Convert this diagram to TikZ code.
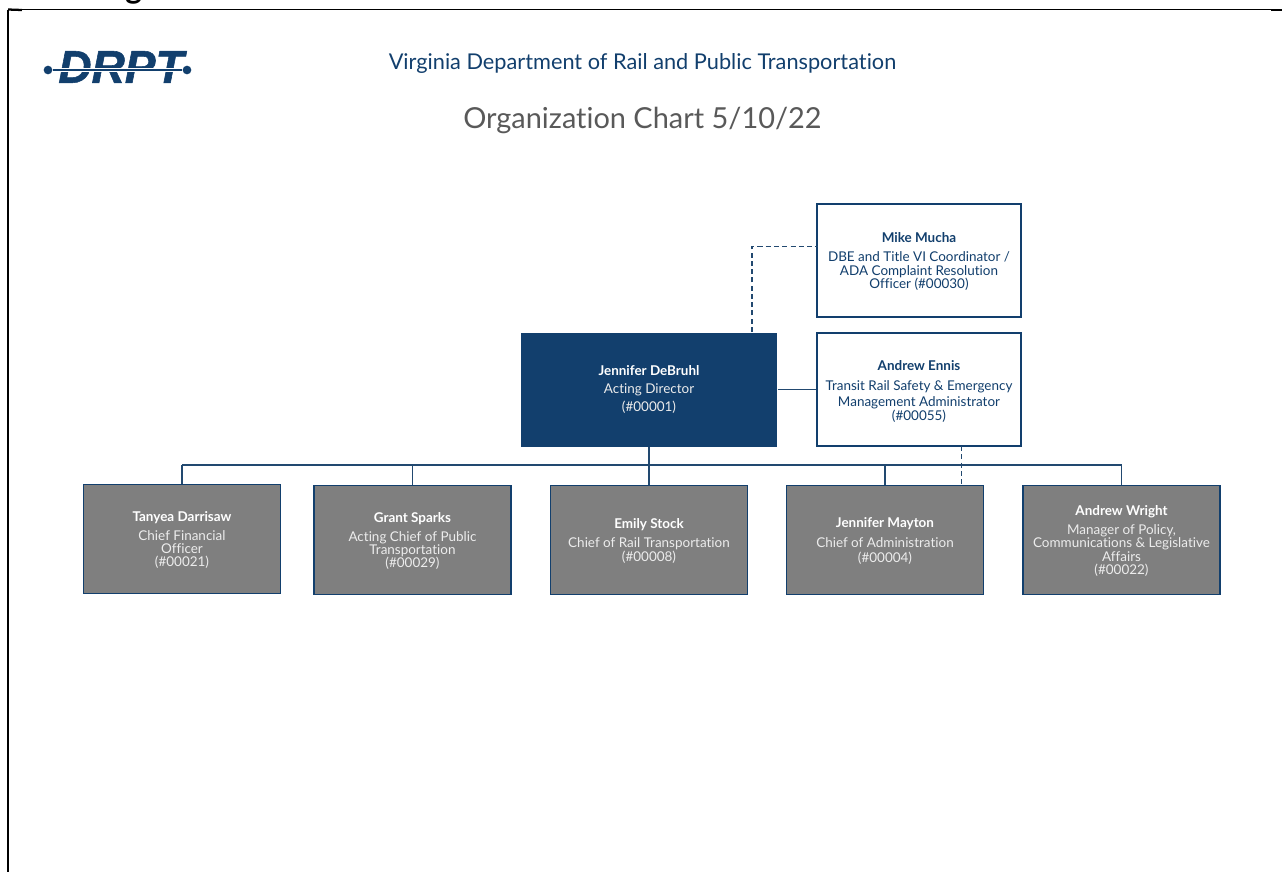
\documentclass[tikz,border=0pt]{standalone}
\usepackage{fontspec}
\setmainfont[Ligatures=NoCommon]{Lato}
\newfontfamily\logofont[FakeBold=1.2]{Liberation Sans}
\definecolor{drptblue}{HTML}{123F6D}
\definecolor{drptgray}{HTML}{7F7F7F}
\definecolor{titlegray}{HTML}{595959}
\tikzset{
    chartline/.style={draw=drptblue!85!gray,line width=1.2pt},
    dashline/.style={chartline,dash pattern=on 3.8pt off 2.4pt},
    staffbox/.style={shape=rectangle,draw=drptblue,line width=1.1pt,fill=white,text=drptblue,
        minimum width=153pt,minimum height=84.5pt,align=center,inner sep=0pt,
        font=\fontsize{10.1pt}{10pt}\selectfont},
    chiefbox/.style={shape=rectangle,draw=drptblue,line width=1.1pt,fill=drptgray,text=white!85!gray,
        minimum width=147.5pt,minimum height=81.5pt,align=center,inner sep=0pt,
        font=\fontsize{10.1pt}{10pt}\selectfont},
}
\newcommand{\who}[1]{\rule{0pt}{8.9pt}{\bfseries\fontsize{10.1pt}{10pt}\selectfont #1}}
\begin{document}
\begin{tikzpicture}[x=0.75pt,y=-0.75pt]
        \useasboundingbox (0,0) rectangle (1282,872);
        \clip (0,0) rectangle (1282,872);

        % frame and clipped heading
        \coordinate (frametl) at (8,9.5);
        \coordinate (framebl) at (8,872);
        \coordinate (frametr) at (1282,9.5);
        \draw[black,line width=0.9pt] (frametl) -- (frametr);
        \draw[black,line width=1.7pt] (frametl) -- (framebl);
        \draw[black,line width=1.7pt] (frametl) -- (22,10);
        \draw[black,line width=1.7pt] (1271,10) -- (1282,10);
        \node[font=\bfseries\fontsize{23.8pt}{26pt}\selectfont,anchor=base west,inner sep=0pt] (heading) at (88,-1.5) {Organization Chart};

        % logo
        \node[font=\logofont\bfseries\itshape\fontsize{34.5pt}{36pt}\selectfont,text=drptblue,inner sep=0pt] (logo) at (121,67) {DRPT};
        \node[shape=circle,fill=drptblue,inner sep=0pt,minimum size=6.5pt] (dotl) at (48,70) {};
        \node[shape=circle,fill=drptblue,inner sep=0pt,minimum size=6.5pt] (dotr) at (187,70) {};
        \path [-,draw=white,line width=2.4pt](dotl) edge (dotr);
        \path [-,draw=drptblue,line width=1.1pt](dotl) edge (dotr);

        % titles
        \node[text=drptblue,font=\fontsize{16.3pt}{18pt}\selectfont] (agency) at (642.5,63.5) {Virginia Department of Rail and Public Transportation};
        \node[text=titlegray,font=\fontsize{21.7pt}{26pt}\selectfont] (title) at (642.5,120) {Organization Chart 5/10/22};

        % boxes
        \node[staffbox] (mucha) at (919,260.5) {\who{Mike Mucha}\\[4.4pt]DBE and Title VI Coordinator /\\ADA Complaint Resolution\\Officer (\#00030)};
        \node[staffbox] (ennis) at (919,389.5) {\rule{0pt}{10.4pt}\who{Andrew Ennis}\\[5pt]Transit Rail Safety \& Emergency\\[2pt]Management Administrator\\(\#00055)};
        \node[shape=rectangle,fill=drptblue,text=white!85!gray,minimum width=192.5pt,minimum height=85.5pt,align=center,inner sep=0pt,font=\fontsize{10.1pt}{13.5pt}\selectfont] (debruhl) at (649,389.5) {{\bfseries\textcolor{white}{Jennifer DeBruhl}}\\Acting Director\\(\#00001)};

        \node[chiefbox] (darrisaw) at (182,539) {\who{\textcolor{white}{Tanyea Darrisaw}}\\[4.4pt]Chief Financial\\Officer\\(\#00021)};
        \node[chiefbox] (sparks) at (412.5,540) {\who{\textcolor{white}{Grant Sparks}}\\[4.4pt]Acting Chief of Public\\Transportation\\(\#00029)};
        \node[chiefbox] (stock) at (649,540) {\who{\textcolor{white}{Emily Stock}}\\[4.4pt]Chief of Rail Transportation\\(\#00008)};
        \node[chiefbox] (mayton) at (885,540) {\who{\textcolor{white}{Jennifer Mayton}}\\[5pt]Chief of Administration\\[1.5pt](\#00004)};
        \node[chiefbox] (wright) at (1121.5,540) {\who{\textcolor{white}{Andrew Wright}}\\[4.4pt]Manager of Policy,\\Communications \& Legislative\\Affairs\\(\#00022)};

        % junctions
        \coordinate (busmid) at (649,465);
        \coordinate (busl) at (182,465);
        \coordinate (busr) at (1121.5,465);
        \coordinate (busb) at (412.5,465);
        \coordinate (busd) at (885,465);
        \coordinate (dashup) at (752,332);
        \coordinate (dashcorner) at (752,246.5);
        \coordinate (dashin) at (817.5,246.5);
        \coordinate (dashout) at (961.5,446);
        \coordinate (dashdown) at (961.5,484);

        \path [chartline](debruhl) edge (ennis);
        \path [chartline,line width=1.5pt](debruhl) edge (busmid);
        \path [chartline](busmid) edge (stock);
        \path [chartline](busl) edge (busb);
        \path [chartline,line width=1.5pt](busb) edge (busmid);
        \path [chartline](busmid) edge (busr);
        \path [chartline](busl) edge (darrisaw);
        \path [chartline](busb) edge (sparks);
        \path [chartline](busd) edge (mayton);
        \path [chartline](busr) edge (wright);
        \draw [dashline](dashup) -- (dashcorner) -- (dashin);
        \path [dashline](dashout) edge (dashdown);
\end{tikzpicture}
\end{document}
